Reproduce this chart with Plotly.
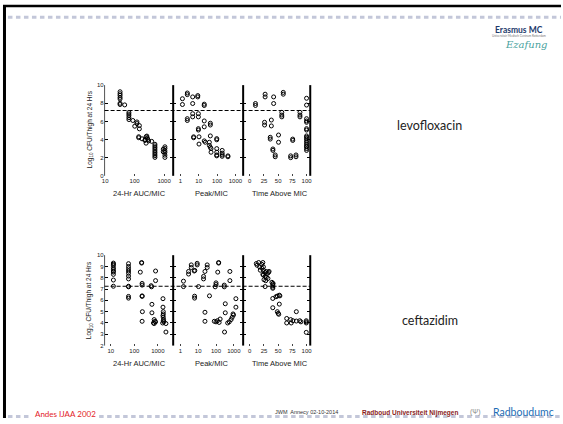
import plotly.graph_objects as go

# ---------------- data ----------------
# Levofloxacin: 24-Hr AUC/MIC
levo_auc_x = [32, 32, 32, 32, 32, 32, 32, 46,
              64, 64, 64, 64, 64, 87, 101, 120, 120, 145, 145,
              138, 138, 178, 230, 245, 260, 270, 282, 300, 245, 225, 380,
              490, 490, 490, 490, 490, 490, 490, 490, 490,
              940, 940, 1070, 1070, 1070, 1070, 1070, 1070]
levo_auc_y = [9.27, 9.05, 8.87, 8.65, 8.47, 8.0, 7.86, 7.82,
              6.99, 6.81, 6.63, 6.41, 6.2, 6.1, 5.47, 5.94, 5.76, 5.54, 5.18,
              4.31, 4.2, 4.08, 4.0, 4.3, 4.38, 4.16, 4.0, 3.85, 3.6, 3.9, 3.8,
              3.48, 3.3, 3.12, 2.94, 2.75, 2.57, 2.39, 2.21, 2.03,
              2.94, 2.65, 3.2, 3.01, 2.75, 2.57, 2.28, 2.03]
# Levofloxacin: Peak/MIC
levo_peak_x = [1.3, 1.3, 2.4, 2.4, 4.7, 4.7, 8.9, 8.9, 20, 20,
               2.4, 2.4, 4.7, 4.7, 9.6, 9.6, 20, 20, 43, 43,
               9.6, 9.6, 5.3, 5.3, 10.4, 10.4, 20, 23, 43, 38, 38, 43, 47,
               96, 96, 96, 96, 96, 96, 47, 190, 190, 190, 190, 390, 390]
levo_peak_y = [8.5, 7.86, 9.13, 8.95, 8.7, 7.97, 8.85, 8.7, 7.9, 7.75,
               6.3, 6.1, 6.85, 6.5, 6.85, 6.5, 6.05, 5.4, 5.8, 5.6,
               5.2, 5.05, 4.3, 4.2, 4.3, 3.5, 3.85, 3.7, 4.4, 3.7, 3.35, 3.15, 3.0,
               4.1, 3.97, 3.0, 2.6, 2.3, 2.2, 2.6, 2.8, 2.5, 2.3, 2.15, 2.2, 2.1]
# Levofloxacin: Time Above MIC
levo_tam_x = [10, 10, 27, 27, 42, 42, 59, 59,
              26, 26, 38, 38, 36, 36, 50.6, 50.6, 40.7, 40.7, 44.8, 44.8,
              56.4, 56.4, 56.4, 88.4, 88.4, 88.4, 75.6, 75.6, 72, 72, 81.4, 81.4,
              100, 100, 100, 100, 100, 100, 100, 100, 100, 100, 100, 100, 100, 100, 100, 100, 100]
levo_tam_y = [7.97, 7.76, 9.0, 8.7, 8.7, 7.97, 9.2, 9.0,
              5.9, 5.6, 6.15, 5.5, 4.25, 4.05, 4.5, 3.7, 2.96, 2.8, 2.3, 2.1,
              7.0, 6.7, 6.5, 7.0, 6.7, 6.5, 4.05, 3.9, 2.2, 2.0, 2.3, 2.1,
              8.55, 7.8, 6.3, 6.05, 5.9, 5.2, 5.05, 4.4, 4.25, 4.1, 3.9, 3.7, 3.5, 3.3, 3.2, 3.0, 2.8]

# Ceftazidime: 24-Hr AUC/MIC
ceft_auc_x = [13, 13, 13, 13, 13, 13, 13, 13, 13, 13,
              57, 57, 57, 57, 57, 57, 57, 57, 57, 57, 57,
              205, 205, 180, 215, 215, 215, 215, 220, 215,
              800, 800, 520, 540, 560, 560, 700, 750, 650, 800, 700,
              1650, 1650, 1700, 1700, 1650, 1700, 1750, 1700, 1800, 1600, 2200, 2200]
ceft_auc_y = [9.3, 9.2, 9.1, 8.9, 8.75, 8.6, 8.5, 8.3, 7.8, 7.25,
              9.25, 9.0, 8.8, 8.6, 8.4, 8.15, 7.9, 7.25, 7.2, 6.35, 6.2,
              9.35, 9.3, 8.5, 7.5, 7.35, 6.4, 6.35, 5.0, 4.15,
              8.6, 7.75, 7.3, 7.2, 5.65, 4.9, 4.3, 4.15, 4.0, 4.1, 3.95,
              6.15, 5.4, 5.0, 4.8, 4.65, 4.5, 4.3, 4.2, 4.1, 4.0, 3.95, 3.2]
# Ceftazidime: Peak/MIC
ceft_peak_x = [1.5, 1.5, 2.9, 2.9, 4.1, 4.1, 6, 6.5, 8.8, 8.8, 6.3, 6.3, 10.5,
               20, 20, 24, 32, 32, 24, 24, 43, 125, 140, 140, 100, 100, 90,
               80, 100, 120, 150, 170, 290, 290, 330, 330, 300, 450, 550,
               600, 600, 700, 800, 900, 950, 1300, 1300]
ceft_peak_y = [7.7, 7.22, 8.56, 8.33, 9.14, 8.91, 8.6, 8.65, 9.28, 9.14, 6.37, 6.2, 7.22,
               8.12, 7.9, 8.56, 8.91, 9.14, 4.95, 4.15, 6.4, 8.5, 9.35, 9.3, 7.55, 7.4, 7.2,
               4.15, 4.1, 4.2, 4.05, 4.35, 7.2, 7.35, 5.7, 4.9, 3.2, 4.0, 4.1,
               8.56, 7.75, 4.3, 4.5, 4.8, 4.7, 6.15, 5.4]
# Ceftazidime: Time Above MIC
ceft_tam_x = [11.5, 12.7, 15.6, 17.3, 18.5, 21, 23, 21.4, 24, 24, 27, 23, 24, 29, 31, 33, 34,
              27, 29, 25, 28, 27, 32,
              40.5, 40.5, 40.5, 40.5, 39, 41, 40.5, 40.5, 46, 48.5, 52, 53, 52, 48.5, 50, 51,
              65, 65, 72, 73, 76, 82, 82, 88, 90, 99.5, 99.5, 99.5, 99.5]
ceft_tam_y = [9.26, 9.11, 9.35, 8.96, 8.67, 9.2, 9.35, 8.85, 8.96, 8.67, 8.47, 8.3, 8.24, 8.56, 8.38, 8.47, 8.56,
              8.12, 8.03, 7.83, 7.74, 7.22, 7.94,
              7.45, 7.3, 7.16, 7.07, 7.6, 7.5, 6.17, 5.35, 6.32, 6.38, 6.46, 6.4, 5.67, 5.0, 4.85, 4.77,
              4.4, 4.0, 4.3, 4.0, 4.2, 5.0, 4.17, 4.2, 4.1, 4.1, 4.0, 4.2, 3.17]

stasis_levo = 7.2
stasis_ceft = 7.25

auc_ticks = [10, 100, 1000]
peak_ticks = [1, 10, 100, 1000]
tam_ticks = [0, 25, 50, 75, 100]
levo_y_ticks = [0, 2, 4, 6, 8, 10]
ceft_y_ticks = [2, 3, 4, 5, 6, 7, 8, 9, 10]
x_titles = ["24-Hr AUC/MIC", "Peak/MIC", "Time Above MIC"]
drugs = ["levofloxacin", "ceftazidim"]

# ---------------- layout helpers ----------------
W, H = 563, 424
def fx(px):
    return px / W
def fy(py):
    return 1 - py / H

col_dom = [(102.5, 171.7), (171.7, 242.3), (242.3, 310.0)]
row_dom = [(83.3, 175.3), (255.8, 347.5)]
x_ranges = [[[0.98, 3.31], [-0.39, 3.42], [-11.7, 106.5]],
            [[0.74, 3.65], [-0.40, 3.52], [-11.7, 106.5]]]
y_ranges = [[0, 10], [2, 10]]
y_ticks = [levo_y_ticks, ceft_y_ticks]
x_ticks = [auc_ticks, peak_ticks, tam_ticks]
x_types = ["log", "log", "linear"]

series = [(levo_auc_x, levo_auc_y), (levo_peak_x, levo_peak_y), (levo_tam_x, levo_tam_y),
          (ceft_auc_x, ceft_auc_y), (ceft_peak_x, ceft_peak_y), (ceft_tam_x, ceft_tam_y)]

CHART_FONT = "Liberation Sans, Arial, sans-serif"
SLIDE_FONT = "Lato, Open Sans, sans-serif"

fig = go.Figure()
layout = dict(width=W, height=H, margin=dict(l=0, r=0, t=0, b=0),
              paper_bgcolor="white", plot_bgcolor="rgba(0,0,0,0)", showlegend=False)

for k, (xs, ys) in enumerate(series):
    r, c = divmod(k, 3)
    idx = k + 1
    xn = "x" if idx == 1 else f"x{idx}"
    yn = "y" if idx == 1 else f"y{idx}"
    fig.add_trace(go.Scatter(x=xs, y=ys, mode="markers", xaxis=xn, yaxis=yn,
                             marker=dict(symbol="circle-open", size=4, color="black",
                                         line=dict(width=1, color="black")),
                             hoverinfo="skip"))
    xk = "xaxis" if idx == 1 else f"xaxis{idx}"
    yk = "yaxis" if idx == 1 else f"yaxis{idx}"
    layout[xk] = dict(domain=[fx(col_dom[c][0]), fx(col_dom[c][1])], anchor=yn,
                      type=x_types[c], range=x_ranges[r][c],
                      tickvals=x_ticks[c], ticktext=[str(v) for v in x_ticks[c]],
                      ticks="inside", ticklen=2, tickwidth=1, tickcolor="#444",
                      showline=False, showgrid=False, zeroline=False,
                      tickfont=dict(family=CHART_FONT, size=6, color="#222"))
    layout[yk] = dict(domain=[fy(row_dom[r][1]), fy(row_dom[r][0])], anchor=xn,
                      range=y_ranges[r], tickvals=y_ticks[r],
                      ticks="inside", ticklen=3, tickwidth=1, tickcolor="black",
                      showline=False, mirror="ticks",
                      showticklabels=(c == 0), showgrid=False, zeroline=False,
                      tickfont=dict(family=CHART_FONT, size=6, color="#222"))

fig.update_layout(**layout)

shapes = []
# panel frame lines: thin left axis, thick separators
for r in range(2):
    y0, y1 = fy(row_dom[r][1]), fy(row_dom[r][0])
    shapes.append(dict(type="line", xref="paper", yref="paper", x0=fx(102.5), x1=fx(102.5),
                       y0=y0, y1=y1, line=dict(color="#555", width=1)))
    for px in (171.7, 242.3, 310.0):
        shapes.append(dict(type="line", xref="paper", yref="paper", x0=fx(px), x1=fx(px),
                           y0=y0, y1=y1, line=dict(color="black", width=2)))
# stasis (dashed) lines
shapes.append(dict(type="line", xref="paper", yref="y", x0=fx(102.5), x1=fx(310),
                   y0=stasis_levo, y1=stasis_levo, line=dict(color="black", width=1.2, dash="4px,2px")))
shapes.append(dict(type="line", xref="paper", yref="y4", x0=fx(102.5), x1=fx(310),
                   y0=stasis_ceft, y1=stasis_ceft, line=dict(color="black", width=1.2, dash="4px,2px")))
# slide frame
shapes.append(dict(type="line", xref="paper", yref="paper", x0=0, x1=1, y0=fy(3), y1=fy(3),
                   line=dict(color="black", width=2.5)))
shapes.append(dict(type="line", xref="paper", yref="paper", x0=fx(1.5), x1=fx(1.5), y0=fy(3), y1=fy(421),
                   line=dict(color="black", width=3)))
# dotted square rows
sq = dict(color="#c3c7d9", width=3, dash="4.5px,3.5px")
shapes.append(dict(type="line", xref="paper", yref="paper", x0=fx(5), x1=1, y0=fy(14.5), y1=fy(14.5), line=sq))
shapes.append(dict(type="line", xref="paper", yref="paper", x0=fx(5), x1=fx(26), y0=fy(419.5), y1=fy(419.5), line=sq))
shapes.append(dict(type="line", xref="paper", yref="paper", x0=fx(97), x1=1, y0=fy(419.5), y1=fy(419.5), line=sq))
fig.update_layout(shapes=shapes)

ann = []
def add_text(text, px, py, size, color="#222", family=CHART_FONT, angle=0, xanchor="center"):
    ann.append(dict(text=text, x=fx(px), y=fy(py), xref="paper", yref="paper", showarrow=False,
                    xanchor=xanchor, yanchor="middle", textangle=angle,
                    font=dict(family=family, size=size, color=color)))

title_x = [137.3, 210.5, 279.0]
for r, ty in enumerate([193.3, 366.0]):
    for c in range(3):
        add_text(x_titles[c], title_x[c], ty, 7.5)
for yy in [128.5, 301.7]:
    add_text("Log<sub>10</sub> CFU/Thigh at 24 Hrs", 87.5, yy, 6.5, angle=-90)

add_text(drugs[0], 430.5, 124, 12.5, color="#222", family=SLIDE_FONT)
add_text(drugs[1], 430.5, 322, 12.5, color="#222", family=SLIDE_FONT)

# header logo
add_text("<b>Erasmus MC</b>", 521, 27, 8.5, color="#1d3a6b", family=SLIDE_FONT)
add_text("Universitair Medisch Centrum Rotterdam", 521, 33, 3, color="#777", family=SLIDE_FONT)
add_text("<i>Ezafung</i>", 528, 42, 10, color="#4aa3a0", family="DejaVu Serif, serif")

# footer
add_text("Andes IJAA 2002", 63, 416.5, 8, color="#e3232a", family=SLIDE_FONT)
add_text("JWM  Annecy 02-10-2014", 306, 414.5, 5.5, color="#333", family=CHART_FONT)
add_text("<b>Radboud Universiteit Nijmegen</b>", 411, 415.5, 6.5, color="#8a1c1c", family=CHART_FONT)
add_text("(Ψ)", 477, 415, 7, color="#888", family=CHART_FONT)
add_text("Radboudumc", 492, 415, 10.5, color="#1c6db5", family=SLIDE_FONT, xanchor="left")

fig.update_layout(annotations=ann)

fig.write_html("out.html", config={"displayModeBar": False},
               post_script="document.body.style.margin='0';document.body.style.overflow='hidden';")
